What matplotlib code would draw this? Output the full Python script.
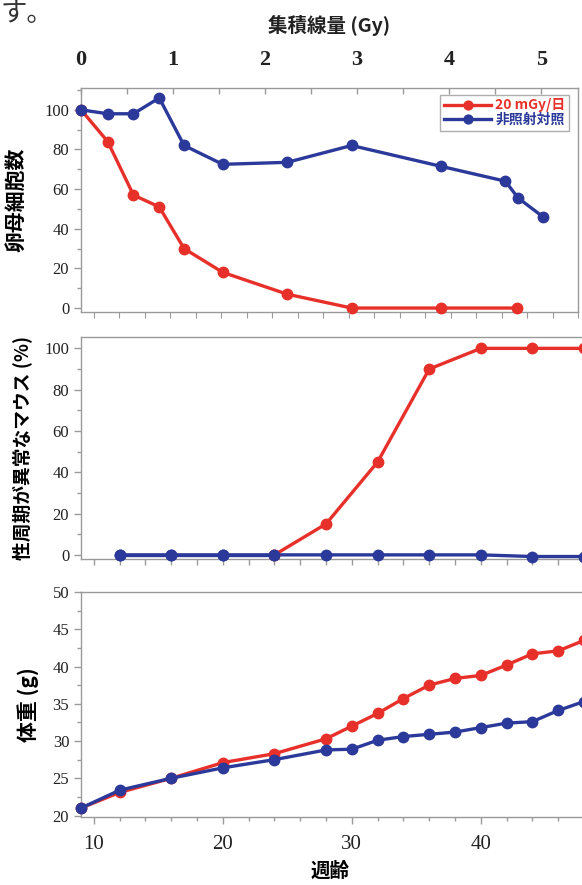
import matplotlib
matplotlib.use('Agg')
import matplotlib.pyplot as plt
from matplotlib.ticker import MultipleLocator

# --- data ---
# top panel: oocyte count vs cumulative dose (Gy)
dose_red = [0, 0.29, 0.57, 0.85, 1.12, 1.54, 2.24, 2.94, 3.91, 4.74]
oocyte_red = [100, 84, 57, 51, 30, 18, 7, 0, 0, 0]
dose_blue = [0, 0.29, 0.57, 0.85, 1.12, 1.54, 2.24, 2.94, 3.91, 4.61, 4.75, 5.02]
oocyte_blue = [100, 98, 98, 106, 82, 72.5, 73.5, 82, 71.5, 64, 55.5, 46]
dose_ticks = [0, 1, 2, 3, 4, 5]

# middle panel: % mice with abnormal estrous cycle vs age (weeks)
week_red_cycle = [24, 28, 32, 36, 40, 44, 48]
cycle_red = [0, 15, 45, 90, 100, 100, 100]
week_blue_cycle = [12, 16, 20, 24, 28, 32, 36, 40, 44, 48]
cycle_blue = [0, 0, 0, 0, 0, 0, 0, 0, -0.8, -0.8]

# bottom panel: body weight (g) vs age (weeks)
week_weight = [9, 12, 16, 20, 24, 28, 30, 32, 34, 36, 38, 40, 42, 44, 46, 48]
weight_red = [21.0, 23.1, 25.0, 27.1, 28.3, 30.3, 32.0, 33.7, 35.7, 37.5, 38.4, 38.8, 40.2, 41.7, 42.1, 43.5]
weight_blue = [21.0, 23.4, 25.0, 26.4, 27.5, 28.8, 28.9, 30.1, 30.6, 30.9, 31.2, 31.8, 32.4, 32.6, 34.1, 35.3]

legend_labels = ['20 mGy/日', '非照射対照']

RED = '#e8302a'
BLUE = '#2b3a9a'
GRAY = '#9a9a9a'
JP = ['Noto Sans CJK JP', 'DejaVu Sans']
SERIF = 'Liberation Serif'

line_kw = dict(lw=2.4, marker='o', ms=7.5, clip_on=False, zorder=3)

fig = plt.figure(figsize=(5.82, 8.85), dpi=100)

W = 582.0
H = 885.0


def rect(left, top, right, bottom):
    return [left / W, 1 - bottom / H, (right - left) / W, (bottom - top) / H]


def style_axis(ax):
    for s in ax.spines.values():
        s.set_color(GRAY)
        s.set_linewidth(1.0)
    ax.tick_params(which='both', colors=GRAY, labelcolor='#222222', width=1.0,
                   labelfontfamily=SERIF)


# ---------- top panel ----------
ax1 = fig.add_axes(rect(81, 88, 578, 312))
# week ticks along the bottom of the top panel
ax1b = ax1.twiny()
ax1b.set_xlim(9, 48)
ax1b.xaxis.tick_bottom()
ax1b.xaxis.set_major_locator(MultipleLocator(2))
ax1b.tick_params(axis='x', direction='out', length=4, colors=GRAY, labelbottom=False, labeltop=False)
for s in ax1b.spines.values():
    s.set_visible(False)

ax1.plot(dose_red, oocyte_red, color=RED, label=legend_labels[0], **line_kw)
ax1.plot(dose_blue, oocyte_blue, color=BLUE, label=legend_labels[1], **line_kw)
ax1.set_xlim(0, 5.40)
ax1.set_ylim(-2, 111)
ax1.xaxis.tick_top()
ax1.set_xticks(dose_ticks)
ax1.set_xticklabels([str(t) for t in dose_ticks], fontweight='bold')
ax1.xaxis.set_minor_locator(MultipleLocator(0.5))
ax1.yaxis.set_major_locator(MultipleLocator(20))
ax1.yaxis.set_minor_locator(MultipleLocator(10))
style_axis(ax1)
ax1.tick_params(axis='x', which='both', direction='in', length=4, labelsize=16, pad=13,
                bottom=False, labelbottom=False, top=True, labeltop=True)
ax1.tick_params(axis='y', which='major', direction='out', length=5, labelsize=12)
ax1.tick_params(axis='y', which='minor', direction='out', length=3)
ax1.set_title('集積線量 (Gy)', family=JP, fontsize=14, fontweight='bold', pad=40, color='#222222')
ax1.set_ylabel('卵母細胞数', family=JP, fontsize=15, fontweight='bold', labelpad=12)

leg = ax1.legend(loc='upper right', bbox_to_anchor=(0.996, 1.0), prop={'family': JP, 'size': 10, 'weight': 'bold'},
                 frameon=True, fancybox=False, edgecolor=GRAY, handlelength=3.4,
                 borderpad=0.25, labelspacing=0.05, handletextpad=0.3, markerscale=0.85)
leg.get_frame().set_linewidth(1.0)
for txt, c in zip(leg.get_texts(), [RED, BLUE]):
    txt.set_color(c)

# ---------- middle panel ----------
ax2 = fig.add_axes(rect(81, 337, 584, 559))
ax2.plot(week_blue_cycle, cycle_blue, color=BLUE, **line_kw)
ax2.plot(week_red_cycle, cycle_red, color=RED, **line_kw)
ax2.plot(week_blue_cycle[:4], cycle_blue[:4], color=BLUE, **line_kw)
ax2.set_xlim(9, 48)
ax2.set_ylim(-2, 105.5)
ax2.xaxis.set_major_locator(MultipleLocator(2))
ax2.yaxis.set_major_locator(MultipleLocator(20))
ax2.yaxis.set_minor_locator(MultipleLocator(10))
style_axis(ax2)
ax2.tick_params(axis='x', direction='out', length=4, labelbottom=False)
ax2.tick_params(axis='y', which='major', direction='out', length=5, labelsize=12)
ax2.tick_params(axis='y', which='minor', direction='out', length=3)
ax2.set_ylabel('性周期が異常なマウス (%)', family=JP, fontsize=13.5, fontweight='bold', labelpad=8)

# ---------- bottom panel ----------
ax3 = fig.add_axes(rect(81, 592, 584, 817))
ax3.plot(week_weight, weight_red, color=RED, **line_kw)
ax3.plot(week_weight, weight_blue, color=BLUE, **line_kw)
ax3.set_xlim(9, 48)
ax3.set_ylim(19.8, 50)
ax3.xaxis.set_major_locator(MultipleLocator(10))
ax3.xaxis.set_minor_locator(MultipleLocator(2))
ax3.yaxis.set_major_locator(MultipleLocator(5))
ax3.yaxis.set_minor_locator(MultipleLocator(2.5))
style_axis(ax3)
ax3.tick_params(axis='x', which='major', direction='out', length=5, labelsize=15, pad=8)
ax3.tick_params(axis='x', which='minor', direction='out', length=3)
ax3.tick_params(axis='y', which='major', direction='out', length=5, labelsize=12)
ax3.tick_params(axis='y', which='minor', direction='out', length=3)
ax3.set_ylabel('体重 (g)', family=JP, fontsize=15, fontweight='bold', labelpad=10)
ax3.set_xlabel('週齢', family=JP, fontsize=14, fontweight='bold')
ax3.xaxis.set_label_coords((330 - 81) / (584 - 81), -0.2)

# fragment of the surrounding page text
fig.text(0.0, 1.0, 'す。', family=JP, fontsize=19, va='top', ha='left', color='#333333')

fig.savefig('out.png', dpi=100)
